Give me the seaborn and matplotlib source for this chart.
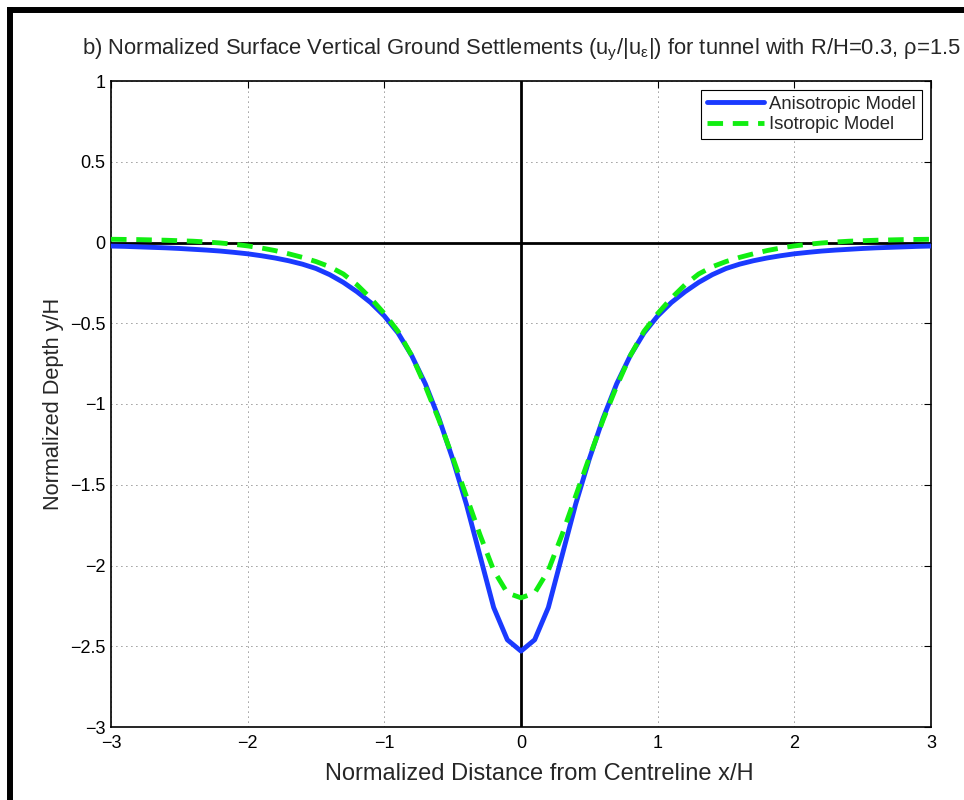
import numpy as np
import pandas as pd
import seaborn as sns
import matplotlib
matplotlib.use("Agg")
import matplotlib.pyplot as plt
from matplotlib.lines import Line2D

# Données (x/H, y/H), pas de 0.1
x_vals = np.round(np.arange(-30, 31) * 0.1, 1)

aniso = [-0.022, -0.024, -0.027, -0.030, -0.033, -0.037, -0.042, -0.047, -0.053, -0.061,
         -0.070, -0.082, -0.096, -0.113, -0.134, -0.161, -0.199, -0.247, -0.305, -0.372,
         -0.455, -0.56, -0.70, -0.875, -1.09, -1.34, -1.62, -1.94, -2.26, -2.46,
         -2.53,
         -2.46, -2.26, -1.94, -1.62, -1.34, -1.09, -0.875, -0.70, -0.56, -0.455,
         -0.372, -0.305, -0.247, -0.199, -0.161, -0.134, -0.113, -0.096, -0.082, -0.070,
         -0.061, -0.053, -0.047, -0.042, -0.037, -0.033, -0.030, -0.027, -0.024, -0.022]

iso = [0.020, 0.019, 0.018, 0.016, 0.014, 0.011, 0.008, 0.003, -0.003, -0.011,
       -0.021, -0.034, -0.050, -0.070, -0.092, -0.118, -0.150, -0.195, -0.262, -0.345,
       -0.44, -0.55, -0.70, -0.89, -1.10, -1.33, -1.57, -1.81, -2.03, -2.17,
       -2.20,
       -2.17, -2.03, -1.81, -1.57, -1.33, -1.10, -0.89, -0.70, -0.55, -0.44,
       -0.345, -0.262, -0.195, -0.150, -0.118, -0.092, -0.070, -0.050, -0.034, -0.021,
       -0.011, -0.003, 0.003, 0.008, 0.011, 0.014, 0.016, 0.018, 0.019, 0.020]

x_ticks = [-3, -2, -1, 0, 1, 2, 3]
y_ticks = [1, 0.5, 0, -0.5, -1, -1.5, -2, -2.5, -3]
y_tick_labels = ["1", "0.5", "0", "\u22120.5", "\u22121", "\u22121.5", "\u22122", "\u22122.5", "\u22123"]

df = pd.DataFrame({"x": x_vals, "Anisotropic Model": aniso, "Isotropic Model": iso})

sns.set_style("white")
plt.rcParams["font.family"] = ["Liberation Sans", "DejaVu Sans"]
plt.rcParams["mathtext.fontset"] = "custom"
plt.rcParams["mathtext.rm"] = "Liberation Sans"
plt.rcParams["axes.unicode_minus"] = True

fig = plt.figure(figsize=(9.64, 8), dpi=100)
ax = fig.add_axes([111 / 964, 1 - 727 / 800, (931 - 111) / 964, (727 - 81) / 800])

# Axes à zéro
ax.axhline(0, color="black", lw=2, zorder=1)
ax.axvline(0, color="black", lw=2, zorder=1)

sns.lineplot(data=df, x="x", y="Anisotropic Model", ax=ax, color="#1a3aff",
             lw=3.5, label="Anisotropic Model", zorder=3)
sns.lineplot(data=df, x="x", y="Isotropic Model", ax=ax, color="#11ee11",
             lw=3.5, label="Isotropic Model", zorder=4)
ax.lines[-1].set_dashes((3.2, 2.0))

ax.set_xlim(-3, 3)
ax.set_ylim(-3, 1)
ax.set_xticks(x_ticks)
ax.set_yticks(y_ticks)
ax.set_xticklabels([str(t).replace("-", "\u2212") for t in x_ticks])
ax.set_yticklabels(y_tick_labels)
ax.tick_params(direction="in", top=True, right=True, length=5, width=0.8,
               labelsize=13, colors="black", pad=4)
ax.tick_params(axis="x", pad=6)
ax.grid(True, color="black", linestyle=(0, (1, 5)), lw=0.6, alpha=0.8)
for s in ax.spines.values():
    s.set_color("black")
    s.set_linewidth(1.2)

ax.set_xlabel("Normalized Distance from Centreline x/H", fontsize=17)
ax.xaxis.set_label_coords((539.5 - 111) / 820, -0.055)
ax.set_ylabel("Normalized Depth y/H", fontsize=15.7, labelpad=4)
ax.set_title("b) Normalized Surface Vertical Ground Settlements "
             r"(u$_{\mathrm{y}}$/|u$_{\mathrm{ε}}$|) for tunnel with R/H=0.3, ρ=1.5",
             fontsize=15.8, pad=19)

leg = ax.legend(loc="upper right", fontsize=13.3, frameon=True, fancybox=False,
                edgecolor="black", framealpha=1, handlelength=3.1,
                borderpad=0.3, labelspacing=0.2, handletextpad=0.3,
                borderaxespad=0.5)
leg.get_frame().set_linewidth(0.8)

# Cadre noir de la figure (haut et gauche)
fig.add_artist(Line2D([7 / 964, 1], [1 - 9.7 / 800, 1 - 9.7 / 800], color="black",
                      lw=4.3, solid_capstyle="butt", transform=fig.transFigure))
fig.add_artist(Line2D([9.7 / 964, 9.7 / 964], [0, 1 - 7 / 800], color="black",
                      lw=4.3, solid_capstyle="butt", transform=fig.transFigure))

fig.savefig("out.png", dpi=100)
plt.close(fig)
